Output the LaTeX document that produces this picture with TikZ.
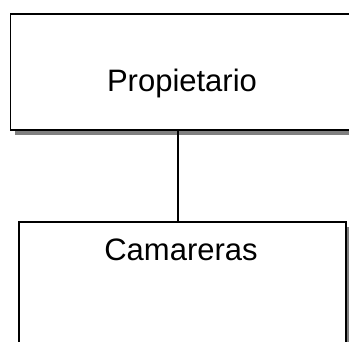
\documentclass[tikz,border=0pt]{standalone}
\usepackage{fontspec}
\setmainfont{Liberation Sans}
\usetikzlibrary{shadows}
\begin{document}
\begin{tikzpicture}[x=1pt,y=-1pt,
  box/.style={draw=black, line width=1.6pt, fill=white, rectangle, inner sep=0pt,
    drop shadow={shadow xshift=5pt, shadow yshift=-5pt, fill=black!50, opacity=1}},
  lbl/.style={font=\fontsize{31}{36}\selectfont, anchor=base, inner sep=0pt},
  conn/.style={draw=black, line width=1.6pt}]
\useasboundingbox (0,0) rectangle (349,342);
\clip (0,0) rectangle (349,342);
\node[box, anchor=north west, minimum width=352pt, minimum height=116.5pt] (top) at (9.5,13) {};
\node[box, anchor=north west, minimum width=327pt, minimum height=150pt] (bot) at (18,221) {};
\node[lbl] (ptext) at (182,92) {Propietario};
\node[lbl] (ctext) at (181,261) {Camareras};
\coordinate (lx) at (178,0);
\draw[conn] (top.south -| lx) -- (bot.north -| lx);
\end{tikzpicture}
\end{document}
